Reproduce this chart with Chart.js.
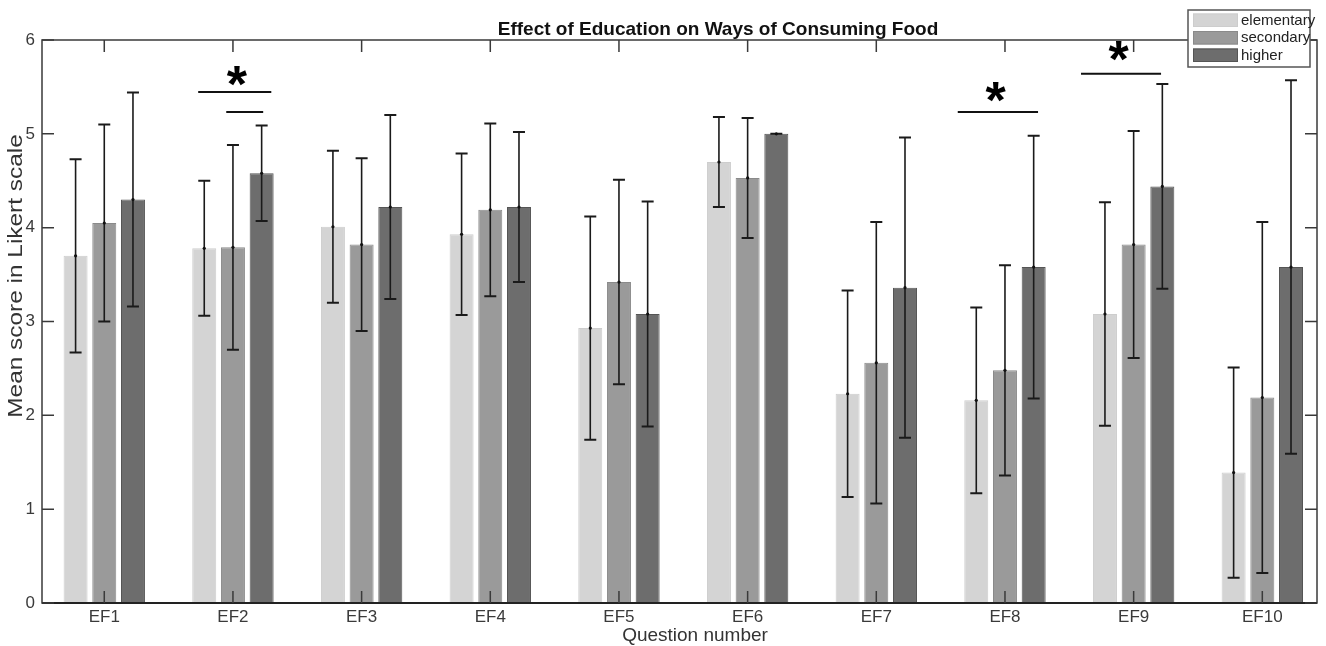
<!DOCTYPE html>
<html>
<head>
<meta charset="utf-8">
<title>Effect of Education on Ways of Consuming Food</title>
<script src="https://cdn.jsdelivr.net/npm/chart.js@4.4.1/dist/chart.umd.min.js"></script>
<style>
  html, body { margin: 0; padding: 0; background: #ffffff; }
  #wrap { width: 1326px; height: 646px; }
</style>
</head>
<body>
<div id="wrap"><canvas id="chart" width="1326" height="646"></canvas></div>
<script>
// Question categories
const categories = ['EF1', 'EF2', 'EF3', 'EF4', 'EF5', 'EF6', 'EF7', 'EF8', 'EF9', 'EF10'];
const seriesNames = ['elementary', 'secondary', 'higher'];

// Mean Likert scores per education level
const elementaryMean = [3.70, 3.78, 4.01, 3.93, 2.93, 4.70, 2.23, 2.16, 3.08, 1.39];
const secondaryMean  = [4.05, 3.79, 3.82, 4.19, 3.42, 4.53, 2.56, 2.48, 3.82, 2.19];
const higherMean     = [4.30, 4.58, 4.22, 4.22, 3.08, 5.00, 3.36, 3.58, 4.44, 3.58];

// Standard deviations (error bars)
const elementarySD = [1.03, 0.72, 0.81, 0.86, 1.19, 0.48, 1.10, 0.99, 1.19, 1.12];
const secondarySD  = [1.05, 1.09, 0.92, 0.92, 1.09, 0.64, 1.50, 1.12, 1.21, 1.87];
const higherSD     = [1.14, 0.51, 0.98, 0.80, 1.20, 0.00, 1.60, 1.40, 1.09, 1.99];

const yTicks = [0, 1, 2, 3, 4, 5, 6];

// Significance brackets (x in question-number units, y in score units)
const sigLines = [
  { x1: 1.730, x2: 2.298, y: 5.446 },
  { x1: 1.948, x2: 2.235, y: 5.233 },
  { x1: 7.633, x2: 8.257, y: 5.233 },
  { x1: 8.591, x2: 9.213, y: 5.641 }
];
const sigStars = [
  { x: 2.033, y: 5.62 },
  { x: 7.931, y: 5.45 },
  { x: 8.887, y: 5.886 }
];

const barColors    = ['#d4d4d4', '#9a9a9a', '#6d6d6d'];
const barBorders   = ['#cdcdcd', '#8a8a8a', '#555555'];
const means = [elementaryMean, secondaryMean, higherMean];
const sds = [elementarySD, secondarySD, higherSD];

const FONT = "'Liberation Sans', Arial, Helvetica, sans-serif";

const datasets = seriesNames.map((name, s) => ({
  label: name,
  data: means[s].map((v, i) => ({ x: i + 1, y: v })),
  errors: sds[s],
  backgroundColor: barColors[s],
  borderColor: barBorders[s],
  borderWidth: 1,
  barPercentage: 0.836,
  categoryPercentage: 0.669
}));

const decorPlugin = {
  id: 'decor',
  beforeDraw(chart) {
    const ctx = chart.ctx;
    ctx.save();
    ctx.fillStyle = '#ffffff';
    ctx.fillRect(0, 0, chart.width, chart.height);
    ctx.restore();
  },
  afterDatasetsDraw(chart) {
    // error bars with caps and a dot at the mean
    const ctx = chart.ctx, ys = chart.scales.y;
    ctx.save();
    chart.data.datasets.forEach((ds, di) => {
      const meta = chart.getDatasetMeta(di);
      meta.data.forEach((bar, i) => {
        const m = ds.data[i].y, e = ds.errors[i];
        const x = bar.x;
        const yt = ys.getPixelForValue(m + e);
        const yb = ys.getPixelForValue(m - e);
        ctx.strokeStyle = '#1a1a1a';
        ctx.lineWidth = 1.6;
        ctx.beginPath();
        ctx.moveTo(x, yt); ctx.lineTo(x, yb);
        ctx.stroke();
        ctx.lineWidth = 2;
        ctx.beginPath();
        ctx.moveTo(x - 6, yt); ctx.lineTo(x + 6, yt);
        ctx.moveTo(x - 6, yb); ctx.lineTo(x + 6, yb);
        ctx.stroke();
        ctx.fillStyle = '#111';
        ctx.beginPath();
        ctx.arc(x, ys.getPixelForValue(m), 1.6, 0, Math.PI * 2);
        ctx.fill();
      });
    });
    ctx.restore();
  },
  afterDraw(chart) {
    const ctx = chart.ctx, a = chart.chartArea;
    const xs = chart.scales.x, ys = chart.scales.y;
    ctx.save();

    // axes box
    ctx.strokeStyle = '#3a3a3a';
    ctx.lineWidth = 1.5;
    ctx.strokeRect(a.left, a.top, a.right - a.left, a.bottom - a.top);
    ctx.strokeStyle = '#222';
    ctx.lineWidth = 2;
    ctx.beginPath();
    ctx.moveTo(a.left, a.bottom); ctx.lineTo(a.right, a.bottom);
    ctx.stroke();

    // inward tick marks
    const tl = 12;
    ctx.strokeStyle = '#3a3a3a';
    ctx.lineWidth = 1.5;
    ctx.beginPath();
    xs.ticks.forEach(t => {
      const px = xs.getPixelForValue(t.value);
      ctx.moveTo(px, a.bottom); ctx.lineTo(px, a.bottom - tl);
      ctx.moveTo(px, a.top); ctx.lineTo(px, a.top + tl);
    });
    ys.ticks.forEach(t => {
      const py = ys.getPixelForValue(t.value);
      ctx.moveTo(a.left, py); ctx.lineTo(a.left + tl, py);
      ctx.moveTo(a.right, py); ctx.lineTo(a.right - tl, py);
    });
    ctx.stroke();

    // significance brackets
    ctx.strokeStyle = '#111';
    ctx.lineWidth = 2;
    ctx.beginPath();
    sigLines.forEach(l => {
      const py = ys.getPixelForValue(l.y);
      ctx.moveTo(xs.getPixelForValue(l.x1), py);
      ctx.lineTo(xs.getPixelForValue(l.x2), py);
    });
    ctx.stroke();

    // significance stars
    ctx.fillStyle = '#000';
    ctx.font = 'bold 52px ' + FONT;
    ctx.textAlign = 'left';
    ctx.textBaseline = 'alphabetic';
    const mm = ctx.measureText('*');
    sigStars.forEach(s => {
      const cx = xs.getPixelForValue(s.x), cy = ys.getPixelForValue(s.y);
      const x = cx - (mm.actualBoundingBoxRight - mm.actualBoundingBoxLeft) / 2;
      const y = cy - (mm.actualBoundingBoxDescent - mm.actualBoundingBoxAscent) / 2;
      ctx.fillText('*', x, y);
    });

    // chart title
    ctx.fillStyle = '#111';
    ctx.font = 'bold 19px ' + FONT;
    ctx.textAlign = 'center';
    ctx.textBaseline = 'alphabetic';
    ctx.fillText('Effect of Education on Ways of Consuming Food', 718, 35);

    // axis titles
    ctx.fillStyle = '#333';
    ctx.font = '19px ' + FONT;
    ctx.fillText('Question number', 695, 641);
    ctx.save();
    ctx.translate(16, 276);
    ctx.rotate(-Math.PI / 2);
    ctx.scale(1.22, 1);
    ctx.textBaseline = 'middle';
    ctx.font = '20px ' + FONT;
    ctx.fillText('Mean score in Likert scale', 0, 0);
    ctx.restore();

    // legend
    const lx = 1188, ly = 10, lw = 122, lh = 57;
    ctx.fillStyle = '#ffffff';
    ctx.fillRect(lx, ly, lw, lh);
    ctx.strokeStyle = '#555';
    ctx.lineWidth = 1.5;
    ctx.strokeRect(lx, ly, lw, lh);
    ctx.font = '15px ' + FONT;
    ctx.textAlign = 'left';
    ctx.textBaseline = 'middle';
    chart.data.datasets.forEach((ds, i) => {
      const ry = 13.5 + i * 17.5;
      ctx.fillStyle = ds.backgroundColor;
      ctx.fillRect(1193, ry, 45, 13.5);
      ctx.strokeStyle = ds.borderColor;
      ctx.lineWidth = 1;
      ctx.strokeRect(1193.5, ry + 0.5, 44, 12.5);
      ctx.fillStyle = '#222';
      ctx.fillText(ds.label, 1241, ry + 7);
    });

    ctx.restore();
  }
};

new Chart(document.getElementById('chart'), {
  type: 'bar',
  data: { datasets },
  options: {
    responsive: false,
    animation: false,
    devicePixelRatio: 1,
    layout: { padding: { top: 40, right: 9, left: 0, bottom: 0 } },
    plugins: {
      legend: { display: false },
      title: { display: false },
      tooltip: { enabled: false }
    },
    scales: {
      x: {
        type: 'linear',
        offset: false,
        min: 0.516,
        max: 10.425,
        grid: { display: false, drawTicks: false },
        border: { display: false },
        afterBuildTicks: scale => { scale.ticks = categories.map((c, i) => ({ value: i + 1 })); },
        afterFit: scale => { scale.height = 43; },
        ticks: {
          autoSkip: false,
          maxRotation: 0,
          padding: 4,
          color: '#3a3a3a',
          font: { family: FONT, size: 17 },
          callback: v => categories[Math.round(v) - 1]
        }
      },
      y: {
        min: 0,
        max: 6,
        grid: { display: false, drawTicks: false },
        border: { display: false },
        afterBuildTicks: scale => { scale.ticks = yTicks.map(v => ({ value: v })); },
        afterFit: scale => { scale.width = 42; },
        ticks: {
          padding: 7,
          color: '#3a3a3a',
          font: { family: FONT, size: 17 },
          callback: v => String(v)
        }
      }
    }
  },
  plugins: [decorPlugin]
});
</script>
</body>
</html>
